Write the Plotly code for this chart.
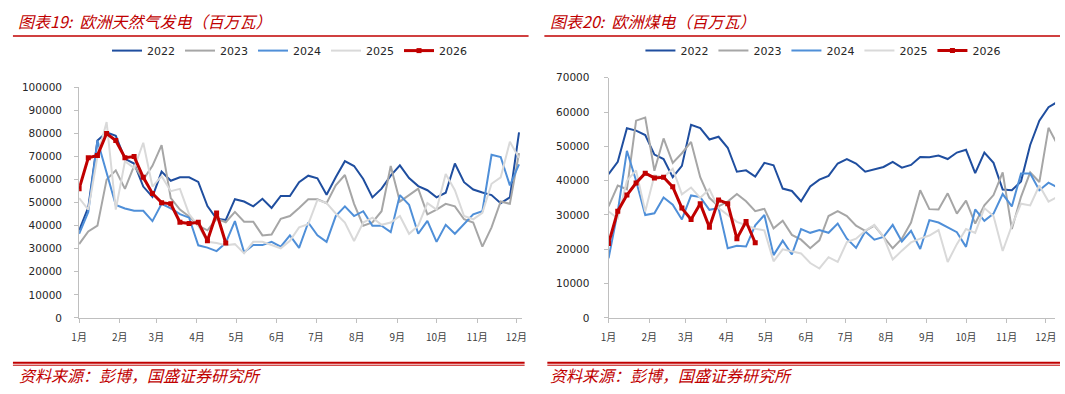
import plotly.graph_objects as go

W, H = 1065, 394

months = ["1月", "2月", "3月", "4月", "5月", "6月", "7月", "8月", "9月", "10月", "11月", "12月"]
month_days = [0, 31, 59, 90, 120, 151, 181, 212, 243, 273, 304, 334]
years = ["2022", "2023", "2024", "2025", "2026"]

gas_2022 = [38000, 48000, 77000, 80500, 79000, 69000, 67000, 57000, 52500, 63500,
            59500, 61000, 61000, 59000, 48500, 43000, 42500, 51500, 50500, 48400,
            51700, 47700, 52900, 52900, 58900, 61700, 60600, 53400, 61000, 68000,
            65900, 60300, 52300, 56100, 61700, 66200, 60700, 57200, 55400, 52300,
            54300, 67000, 58900, 55700, 54400, 53300, 49800, 52300, 80500]
gas_2023 = [32000, 37500, 40000, 60000, 64000, 56000, 66000, 60000, 66000, 75000,
            52000, 47000, 44000, 40000, 38000, 43000, 41500, 46000, 41700, 41700,
            35800, 36200, 43000, 44200, 47700, 51500, 51500, 49800, 57500, 62000,
            49500, 40000, 41400, 46300, 65900, 50500, 53300, 56100, 44900, 47000,
            49500, 48400, 42800, 41400, 30900, 39300, 50500, 49500, 71500]
gas_2024 = [36500, 46000, 77000, 63000, 49000, 47500, 46500, 46500, 42000, 49500,
            47500, 45000, 43500, 31500, 30500, 29000, 32500, 42000, 28500, 31600,
            31600, 33000, 30900, 35800, 30400, 41400, 35800, 33000, 44200, 48400,
            44200, 46300, 40000, 40000, 37200, 53300, 49100, 36500, 42100, 33000,
            40400, 36500, 40700, 44900, 46300, 70800, 69800, 57500, 66600]
gas_2025 = [52000, 47000, 70000, 85000, 47000, 68000, 65000, 76000, 57000, 61500,
            55000, 56000, 45000, 40000, 33000, 32500, 31500, 32000, 28000, 33000,
            33000, 31600, 30200, 33500, 39300, 40700, 51200, 49800, 45300, 41400,
            33400, 41400, 43500, 40400, 41400, 44200, 36500, 40000, 49800, 47000,
            62400, 55400, 44200, 42800, 45600, 58200, 61000, 76400, 69400]
gas_2026 = [56000, 69500, 70500, 80000, 77000, 69500, 70000, 61000, 54000, 50000,
            49500, 41500, 41000, 41500, 33500, 45500, 32500]

coal_2022 = [41900, 45500, 55300, 54600, 53300, 47600, 46300, 41000, 44300, 56300,
             55300, 52000, 52800, 49600, 42600, 43000, 41200, 45200, 44500, 37700,
             37000, 34000, 38300, 40300, 41400, 45000, 46300, 45000, 42600, 43300,
             44000, 45500, 43800, 44600, 46900, 46800, 47300, 46300, 48200, 49000,
             42200, 48200, 45200, 37400, 37200, 39800, 50400, 57500, 61400, 63000]
coal_2023 = [32500, 38600, 37500, 57500, 58400, 42900, 52300, 45200, 48000, 51300,
             41000, 35000, 32500, 33900, 36100, 34000, 31100, 31800, 26100, 28300,
             24200, 22800, 20300, 22600, 29700, 31100, 29700, 26900, 25400, 26900,
             23600, 20300, 23100, 27800, 37200, 31700, 31600, 36300, 30400, 34200,
             27500, 32800, 35800, 42400, 25900, 35300, 42400, 39600, 55400, 50400]
coal_2024 = [17400, 31000, 48700, 40000, 30000, 30500, 35100, 33000, 28700, 35700,
             35200, 31500, 32000, 20300, 21000, 20800, 27000, 30000, 18300, 22500,
             18500, 25900, 24800, 25600, 24800, 27500, 23100, 20400, 25200, 22800,
             23600, 27100, 22300, 25400, 20100, 28500, 27800, 26400, 25000, 20700,
             31600, 28300, 30400, 36100, 32500, 42100, 42100, 37200, 39400, 38000]
coal_2025 = [31000, 29000, 40000, 43000, 31000, 41500, 41000, 43500, 36000, 38000,
             35000, 37500, 32000, 30000, 28000, 27000, 26000, 25500, 16500, 20000,
             19500, 18800, 16000, 14400, 17700, 16300, 22100, 23100, 25400, 27100,
             23600, 17000, 19600, 22000, 23100, 24000, 25600, 16300, 21500, 25900,
             24800, 32000, 29700, 19500, 26900, 33300, 32800, 38600, 33900, 35300]
coal_2026 = [21700, 31100, 35800, 39300, 42200, 40800, 41000, 38200, 32000, 28700,
             33300, 26400, 34400, 33300, 23100, 28100, 21900]

colors = {"2022": "#1f4e9f", "2023": "#a6a6a6", "2024": "#4f8fd8",
          "2025": "#d9d9d9", "2026": "#c00000"}
RED = "#c00000"

gas = dict(zip(years, [gas_2022, gas_2023, gas_2024, gas_2025, gas_2026]))
coal = dict(zip(years, [coal_2022, coal_2023, coal_2024, coal_2025, coal_2026]))


def week_days(vals):
    return [7 * i for i in range(len(vals))]


fig = go.Figure()
for panel, data, xa, ya, lg in [(1, gas, "x", "y", "legend"), (2, coal, "x2", "y2", "legend2")]:
    for yr in years:
        vals = data[yr]
        is_cur = yr == "2026"
        fig.add_trace(go.Scatter(
            x=week_days(vals), y=vals, name=yr, xaxis=xa, yaxis=ya, legend=lg,
            mode="lines+markers" if is_cur else "lines",
            line=dict(color=colors[yr], width=3 if is_cur else 2),
            marker=dict(symbol="square", size=5, color=colors[yr]),
            hoverinfo="skip",
        ))


def px_x(p):
    return p / W


def px_y(p):
    return 1 - p / H


axis_common = dict(showgrid=False, zeroline=False, showline=True, linecolor="#bfbfbf",
                   linewidth=1, ticks="outside", ticklen=4, tickcolor="#bfbfbf")
xfont = dict(family="Noto Sans CJK SC", size=10, color="#404040")
yfont = dict(family="DejaVu Sans", size=10.5, color="#262626")
legfont = dict(family="DejaVu Sans", size=11, color="#262626")

fig.update_layout(
    width=W, height=H, margin=dict(l=0, r=0, t=0, b=0),
    paper_bgcolor="white", plot_bgcolor="white", showlegend=True,
    xaxis=dict(domain=[px_x(72), px_x(520)], range=[0, 338], tickvals=month_days,
               ticktext=months, tickfont=xfont, anchor="y", ticklabelstandoff=6, **axis_common),
    yaxis=dict(domain=[px_y(321.7), px_y(84)], range=[0, 100000], dtick=10000,
               tickformat="d", tickfont=yfont, anchor="x", ticklabelstandoff=10, **axis_common),
    xaxis2=dict(domain=[px_x(608), px_x(1060)], range=[0, 341], tickvals=month_days,
                ticktext=months, tickfont=xfont, anchor="y2", ticklabelstandoff=6, **axis_common),
    yaxis2=dict(domain=[px_y(321.7), px_y(74)], range=[0, 70000], dtick=10000,
                tickformat="d", tickfont=yfont, anchor="x2", ticklabelstandoff=12, **axis_common),
    legend=dict(orientation="h", x=px_x(285), xanchor="center", y=px_y(46), yanchor="middle",
                font=legfont, bgcolor="rgba(0,0,0,0)", itemclick=False),
    legend2=dict(orientation="h", x=px_x(825), xanchor="center", y=px_y(46), yanchor="middle",
                 font=legfont, bgcolor="rgba(0,0,0,0)", itemclick=False),
)

title_font = dict(family="Noto Sans CJK SC", size=16, color=RED, style="italic")
texts = [
    ("图表19:  欧洲天然气发电（百万瓦）", 8, 15),
    ("图表20:  欧洲煤电（百万瓦）", 547, 15),
    ("资料来源：彭博，国盛证券研究所", 9, 381),
    ("资料来源：彭博，国盛证券研究所", 547, 381),
]
for t, x, y in texts:
    fig.add_annotation(text=t, x=px_x(x), y=px_y(y), xref="paper", yref="paper",
                       xanchor="left", yanchor="middle", showarrow=False, font=title_font)

lines = [
    (5, 527, 31, 1.5), (543, 1065, 31, 1.5),
    (5, 523, 368, 2), (546, 1065, 368, 2),
    (5, 523, 370.5, 1), (546, 1065, 370.5, 1),
]
for x0, x1, y, w in lines:
    fig.add_shape(type="line", xref="paper", yref="paper", x0=px_x(x0), x1=px_x(x1),
                  y0=px_y(y), y1=px_y(y), line=dict(color=RED, width=w))

fig.write_html("out.html")
